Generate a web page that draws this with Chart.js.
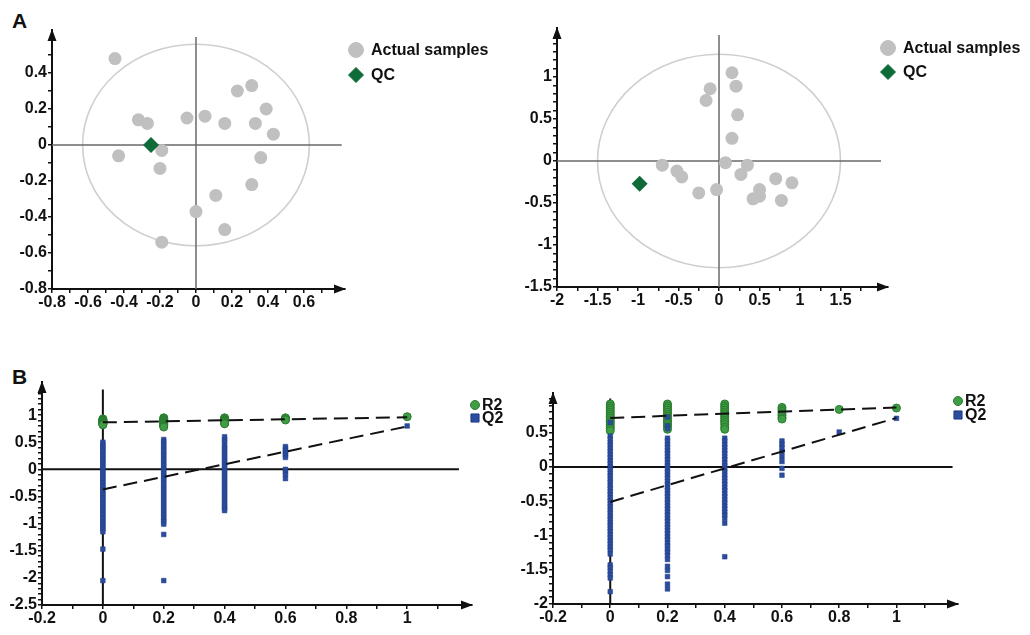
<!DOCTYPE html>
<html><head><meta charset="utf-8">
<script src="https://cdn.jsdelivr.net/npm/chart.js@4/dist/chart.umd.min.js"></script>
<style>
html,body{margin:0;padding:0;background:#fff;width:1030px;height:635px;overflow:hidden;position:relative}
canvas{position:absolute}
.lab{position:absolute;font:bold 21px 'Liberation Sans',Arial,sans-serif;color:#111;line-height:1}
</style></head><body>
<div class="lab" style="left:12px;top:10px">A</div>
<div class="lab" style="left:12px;top:366px">B</div>
<canvas id="c1" width="515" height="320" style="left:0;top:0"></canvas>
<canvas id="c2" width="515" height="320" style="left:515px;top:0"></canvas>
<canvas id="c3" width="515" height="275" style="left:0;top:360px"></canvas>
<canvas id="c4" width="515" height="275" style="left:515px;top:360px"></canvas>
<script>
const FONT = "'Liberation Sans', Arial, sans-serif";

// ---------- Panel A (left) ----------
const aLeftSampleX = [-0.45,-0.32,-0.27,-0.43,-0.19,-0.20,-0.19,-0.05,0.05,0.16,0.23,0.31,0.39,0.33,0.43,0.36,0.31,0.11,0.00,0.16];
const aLeftSampleY = [0.48,0.14,0.12,-0.06,-0.03,-0.13,-0.54,0.15,0.16,0.12,0.30,0.33,0.20,0.12,0.06,-0.07,-0.22,-0.28,-0.37,-0.47];
const aLeftQCX = [-0.25];
const aLeftQCY = [0.00];
const aLeftXTicks = [-0.8,-0.7,-0.6,-0.5,-0.4,-0.3,-0.2,-0.1,0,0.1,0.2,0.3,0.4,0.5,0.6,0.7];
const aLeftXLabels = [-0.8,-0.6,-0.4,-0.2,0,0.2,0.4,0.6];
const aLeftYTicks = [-0.8,-0.7,-0.6,-0.5,-0.4,-0.3,-0.2,-0.1,0,0.1,0.2,0.3,0.4,0.5];
const aLeftYLabels = [-0.8,-0.6,-0.4,-0.2,0,0.2,0.4];

// ---------- Panel A (right) ----------
const aRightSampleX = [0.16,-0.11,-0.16,0.21,0.23,0.16,0.08,0.35,0.27,-0.70,-0.52,-0.46,-0.25,-0.03,0.50,0.42,0.50,0.70,0.90,0.77];
const aRightSampleY = [1.05,0.86,0.72,0.89,0.55,0.27,-0.02,-0.05,-0.16,-0.05,-0.12,-0.19,-0.38,-0.34,-0.34,-0.45,-0.42,-0.21,-0.26,-0.47];
const aRightQCX = [-0.98];
const aRightQCY = [-0.27];
const aRightXTicks = [-2,-1.75,-1.5,-1.25,-1,-0.75,-0.5,-0.25,0,0.25,0.5,0.75,1,1.25,1.5,1.75];
const aRightXLabels = [-2,-1.5,-1,-0.5,0,0.5,1,1.5];
const aRightYTicks = [-1.5,-1.4,-1.3,-1.2,-1.1,-1,-0.9,-0.8,-0.7,-0.6,-0.5,-0.4,-0.3,-0.2,-0.1,0,0.1,0.2,0.3,0.4,0.5,0.6,0.7,0.8,0.9,1,1.1,1.2,1.3,1.4];
const aRightYLabels = [-1.5,-1,-0.5,0,0.5,1];

// ---------- Panel B (left) permutation test ----------
const bLeftPerm = [0, 0.2, 0.4, 0.6, 1];
const bLeftR2 = [
  [0.93,0.92,0.91,0.90,0.89,0.88,0.87,0.86,0.85,0.84,0.83,0.82],
  [0.95,0.94,0.92,0.91,0.89,0.88,0.86,0.85,0.83,0.81,0.80,0.78],
  [0.95,0.94,0.92,0.91,0.89,0.88,0.86,0.85,0.84],
  [0.95,0.94,0.92,0.91],
  [0.97]
];
const bLeftQ2 = [
  [0.50,0.46,0.41,0.37,0.33,0.28,0.24,0.19,0.15,0.11,0.06,0.02,-0.03,-0.07,-0.12,-0.16,-0.21,-0.25,-0.30,-0.34,-0.38,-0.43,-0.47,-0.52,-0.56,-0.61,-0.65,-0.70,-0.74,-0.79,-0.83,-0.88,-0.92,-0.97,-1.01,-1.06,-1.10,-1.15,-1.47,-2.05],
  [0.55,0.51,0.46,0.42,0.37,0.33,0.28,0.24,0.19,0.15,0.10,0.06,0.01,-0.03,-0.08,-0.12,-0.17,-0.21,-0.26,-0.30,-0.35,-0.39,-0.44,-0.48,-0.53,-0.57,-0.62,-0.66,-0.71,-0.75,-0.80,-0.84,-0.89,-0.93,-0.97,-1.01,-1.20,-2.05],
  [0.60,0.55,0.51,0.44,0.40,0.35,0.31,0.26,0.22,0.17,0.13,0.08,0.04,-0.01,-0.05,-0.10,-0.14,-0.19,-0.23,-0.28,-0.32,-0.37,-0.41,-0.46,-0.50,-0.55,-0.59,-0.64,-0.68,-0.72,-0.76],
  [0.42,0.38,0.34,0.30,0.26,0.22,0.00,-0.05,-0.10,-0.17],
  [0.80]
];
const bLeftR2LineX = [0, 1];
const bLeftR2LineY = [0.866, 0.96];
const bLeftQ2LineX = [0, 1];
const bLeftQ2LineY = [-0.37, 0.79];
const bLeftXTicks = [-0.2,-0.1,0,0.1,0.2,0.3,0.4,0.5,0.6,0.7,0.8,0.9,1,1.1];
const bLeftXLabels = [-0.2,0,0.2,0.4,0.6,0.8,1];
const bLeftYTicks = [-2.5,-2.4,-2.3,-2.2,-2.1,-2,-1.9,-1.8,-1.7,-1.6,-1.5,-1.4,-1.3,-1.2,-1.1,-1,-0.9,-0.8,-0.7,-0.6,-0.5,-0.4,-0.3,-0.2,-0.1,0,0.1,0.2,0.3,0.4,0.5,0.6,0.7,0.8,0.9,1,1.1,1.2,1.3,1.4];
const bLeftYLabels = [-2.5,-2,-1.5,-1,-0.5,0,0.5,1];

// ---------- Panel B (right) permutation test ----------
const bRightPerm = [0, 0.2, 0.4, 0.6, 0.8, 1];
const bRightR2 = [
  [0.92,0.89,0.86,0.83,0.80,0.77,0.74,0.71,0.68,0.65,0.62,0.59,0.56,0.53],
  [0.92,0.89,0.86,0.83,0.80,0.77,0.74,0.71,0.68,0.65,0.62,0.59,0.55],
  [0.92,0.89,0.86,0.83,0.80,0.77,0.74,0.71,0.68,0.65,0.62,0.58,0.55],
  [0.87,0.84,0.81,0.78,0.75,0.72,0.70],
  [0.84],
  [0.86]
];
const bRightQ2 = [
  [0.65,0.45,0.41,0.36,0.32,0.27,0.23,0.18,0.14,0.09,0.05,0.00,-0.04,-0.09,-0.13,-0.18,-0.22,-0.27,-0.31,-0.36,-0.40,-0.45,-0.49,-0.54,-0.58,-0.63,-0.67,-0.72,-0.76,-0.81,-0.85,-0.90,-0.94,-0.99,-1.03,-1.08,-1.12,-1.17,-1.21,-1.27,-1.43,-1.47,-1.52,-1.57,-1.62,-1.82],
  [0.73,0.60,0.56,0.42,0.38,0.33,0.29,0.24,0.20,0.15,0.11,0.06,0.02,-0.03,-0.07,-0.12,-0.16,-0.21,-0.25,-0.30,-0.34,-0.39,-0.43,-0.48,-0.52,-0.57,-0.61,-0.66,-0.70,-0.75,-0.79,-0.84,-0.88,-0.93,-0.97,-1.02,-1.06,-1.11,-1.15,-1.20,-1.24,-1.29,-1.35,-1.45,-1.51,-1.60,-1.71,-1.78],
  [0.42,0.38,0.33,0.29,0.24,0.20,0.15,0.11,0.06,0.02,-0.03,-0.07,-0.12,-0.16,-0.21,-0.25,-0.30,-0.34,-0.39,-0.43,-0.48,-0.52,-0.57,-0.61,-0.66,-0.70,-0.75,-0.82,-1.31],
  [0.38,0.33,0.28,0.22,0.15,0.08,-0.02,-0.12],
  [0.51],
  [0.71]
];
const bRightR2LineX = [0, 1];
const bRightR2LineY = [0.716, 0.87];
const bRightQ2LineX = [0, 1];
const bRightQ2LineY = [-0.51, 0.716];
const bRightXTicks = [-0.2,-0.1,0,0.1,0.2,0.3,0.4,0.5,0.6,0.7,0.8,0.9,1,1.1];
const bRightXLabels = [-0.2,0,0.2,0.4,0.6,0.8,1];
const bRightYTicks = [-2,-1.9,-1.8,-1.7,-1.6,-1.5,-1.4,-1.3,-1.2,-1.1,-1,-0.9,-0.8,-0.7,-0.6,-0.5,-0.4,-0.3,-0.2,-0.1,0,0.1,0.2,0.3,0.4,0.5,0.6,0.7,0.8,0.9,1];
const bRightYLabels = [-2,-1.5,-1,-0.5,0,0.5];

// ---------- helpers ----------
const pts = (xs, ys) => xs.map((x, i) => ({x, y: ys[i]}));
const groups = (xs, vals) => xs.flatMap((x, i) => vals[i].map(v => ({x, y: v})));

function axis(min, max, ticks, labels, size, isX) {
  return {
    type: 'linear', min, max,
    afterBuildTicks: s => { s.ticks = ticks.map(v => ({value: v})); },
    afterFit: s => { if (isX) s.height = size; else s.width = size; },
    ticks: {
      autoSkip: false, maxRotation: 0, minRotation: 0, color: '#111', padding: isX ? 0 : 1,
      font: {family: FONT, size: 16, weight: 'bold'},
      callback: v => labels.some(l => Math.abs(l - v) < 1e-9) ? String(v) : ''
    },
    grid: {drawOnChartArea: false, drawTicks: true, tickLength: 4, color: '#111', lineWidth: 1.5},
    border: {display: true, color: '#111', width: 2}
  };
}

const decor = {
  id: 'decor',
  beforeDatasetsDraw(chart, args, o) {
    const {ctx, chartArea: ca} = chart;
    const x = chart.scales.x, y = chart.scales.y;
    ctx.save();
    if (o.ellipse) {
      const cx = x.getPixelForValue(0), cy = y.getPixelForValue(0);
      const rx = Math.abs(x.getPixelForValue(o.ellipse.rx) - cx);
      const ry = Math.abs(y.getPixelForValue(o.ellipse.ry) - cy);
      ctx.beginPath(); ctx.ellipse(cx, cy, rx, ry, 0, 0, Math.PI * 2);
      ctx.strokeStyle = o.ellipse.color; ctx.lineWidth = 1.6; ctx.stroke();
    }
    if (o.cross) {
      const y0 = y.getPixelForValue(0), x0 = x.getPixelForValue(0);
      ctx.strokeStyle = o.cross.color; ctx.lineWidth = o.cross.width;
      ctx.beginPath();
      ctx.moveTo(ca.left, y0); ctx.lineTo(x.getPixelForValue(o.cross.hEnd), y0);
      ctx.moveTo(x0, y.getPixelForValue(o.cross.vTop)); ctx.lineTo(x0, ca.bottom);
      ctx.stroke();
    }
    ctx.restore();
  },
  afterDraw(chart, args, o) {
    const {ctx, chartArea: ca} = chart;
    ctx.save();
    ctx.fillStyle = '#111';
    // arrows
    ctx.beginPath();
    ctx.moveTo(ca.left, ca.top - 1); ctx.lineTo(ca.left - 4.5, ca.top + 11); ctx.lineTo(ca.left + 4.5, ca.top + 11); ctx.closePath();
    ctx.moveTo(ca.right + 1, ca.bottom); ctx.lineTo(ca.right - 11, ca.bottom - 4.5); ctx.lineTo(ca.right - 11, ca.bottom + 4.5); ctx.closePath();
    ctx.fill();
    // legend
    if (o.legend) {
      const L = o.legend;
      let i = 0;
      chart.data.datasets.forEach(ds => {
        if (!ds.label) return;
        const mx = ca.right + L.dx, my = ca.top + L.dy + i * L.gap;
        ctx.fillStyle = ds.backgroundColor; ctx.strokeStyle = ds.borderColor; ctx.lineWidth = 1;
        ctx.beginPath();
        const r = L.r;
        if (ds.pointStyle === 'rectRot') {
          ctx.moveTo(mx, my - r); ctx.lineTo(mx + r, my); ctx.lineTo(mx, my + r); ctx.lineTo(mx - r, my); ctx.closePath();
        } else if (ds.pointStyle === 'rect') {
          ctx.rect(mx - r * 0.9, my - r * 0.9, r * 1.8, r * 1.8);
        } else {
          ctx.arc(mx, my, r, 0, Math.PI * 2);
        }
        ctx.fill(); ctx.stroke();
        ctx.fillStyle = '#111';
        ctx.font = 'bold 16px ' + FONT;
        ctx.textBaseline = 'middle'; ctx.textAlign = 'left';
        ctx.fillText(ds.label, mx + L.tx, my + 1);
        i++;
      });
    }
    ctx.restore();
  }
};

const GRAY = '#c0c0c0', QCG = '#0f6b38';
const R2F = '#3f9e43', R2B = '#2a7a30', Q2F = '#2c4c9e', Q2B = '#1f3c87';

function scoreDatasets(sx, sy, qx, qy) {
  return [
    {label: 'Actual samples', data: pts(sx, sy), pointStyle: 'circle', pointRadius: 6.5,
     backgroundColor: GRAY, borderColor: GRAY, borderWidth: 0, order: 2},
    {label: 'QC', data: pts(qx, qy), pointStyle: 'rectRot', pointRadius: 8,
     backgroundColor: QCG, borderColor: QCG, borderWidth: 0, order: 1}
  ];
}
function permDatasets(perm, r2, q2, rlx, rly, qlx, qly) {
  return [
    {label: 'R2', data: groups(perm, r2), pointStyle: 'circle', pointRadius: 4,
     backgroundColor: R2F, borderColor: R2B, borderWidth: 1, order: 3},
    {label: 'Q2', data: groups(perm, q2), pointStyle: 'rect', pointRadius: 3.3,
     backgroundColor: Q2F, borderColor: Q2B, borderWidth: 0.5, order: 2},
    {data: pts(rlx, rly), showLine: true, pointRadius: 0, borderColor: '#111', borderWidth: 2,
     borderDash: [14, 7], backgroundColor: '#111', order: 1},
    {data: pts(qlx, qly), showLine: true, pointRadius: 0, borderColor: '#111', borderWidth: 2,
     borderDash: [14, 7], backgroundColor: '#111', order: 1}
  ];
}

function make(id, datasets, scales, padding, decorOpts) {
  return new Chart(document.getElementById(id), {
    type: 'scatter',
    data: {datasets},
    options: {
      responsive: false, animation: false, events: [],
      layout: {padding},
      plugins: {legend: {display: false}, tooltip: {enabled: false}, decor: decorOpts},
      scales
    },
    plugins: [decor]
  });
}

// A left: chart area 52..345 x 30..289
make('c1', scoreDatasets(aLeftSampleX, aLeftSampleY, aLeftQCX, aLeftQCY),
  {x: axis(-0.8, 0.828, aLeftXTicks, aLeftXLabels, 31, true),
   y: axis(-0.8, 0.639, aLeftYTicks, aLeftYLabels, 52, false)},
  {left: 0, right: 170, top: 30, bottom: 0},
  {ellipse: {rx: 0.63, ry: 0.56, color: '#cfcfcf'}, cross: {hEnd: 0.81, vTop: 0.60, color: '#6a6a6a', width: 1.5},
   legend: {dx: 11, dy: 20, gap: 25, r: 7.5, tx: 15}});

// A right: chart area 557..888 x 28..287 (canvas offset 515)
make('c2', scoreDatasets(aRightSampleX, aRightSampleY, aRightQCX, aRightQCY),
  {x: axis(-2, 2.086, aRightXTicks, aRightXLabels, 33, true),
   y: axis(-1.5, 1.583, aRightYTicks, aRightYLabels, 42, false)},
  {left: 0, right: 142, top: 28, bottom: 0},
  {ellipse: {rx: 1.5, ry: 1.27, color: '#cfcfcf'}, cross: {hEnd: 2.0, vTop: 1.5, color: '#6a6a6a', width: 1.5},
   legend: {dx: 0, dy: 20, gap: 24, r: 7.5, tx: 15}});

// B left: chart area 42..472 x 382..605 (canvas top 360)
make('c3', permDatasets(bLeftPerm, bLeftR2, bLeftQ2, bLeftR2LineX, bLeftR2LineY, bLeftQ2LineX, bLeftQ2LineY),
  {x: axis(-0.2, 1.213, bLeftXTicks, bLeftXLabels, 30, true),
   y: axis(-2.5, 1.61, bLeftYTicks, bLeftYLabels, 42, false)},
  {left: 0, right: 43, top: 22, bottom: 0},
  {cross: {hEnd: 1.17, vTop: 1.47, color: '#111', width: 2},
   legend: {dx: 3, dy: 23, gap: 13, r: 4.5, tx: 7}});

// B right: chart area 553..958 x 393..604
make('c4', permDatasets(bRightPerm, bRightR2, bRightQ2, bRightR2LineX, bRightR2LineY, bRightQ2LineX, bRightQ2LineY),
  {x: axis(-0.2, 1.215, bRightXTicks, bRightXLabels, 31, true),
   y: axis(-2, 1.08, bRightYTicks, bRightYLabels, 38, false)},
  {left: 0, right: 72, top: 33, bottom: 0},
  {cross: {hEnd: 1.196, vTop: 1.0, color: '#111', width: 2},
   legend: {dx: 0, dy: 8, gap: 14, r: 4.5, tx: 7}});
</script>
</body></html>
